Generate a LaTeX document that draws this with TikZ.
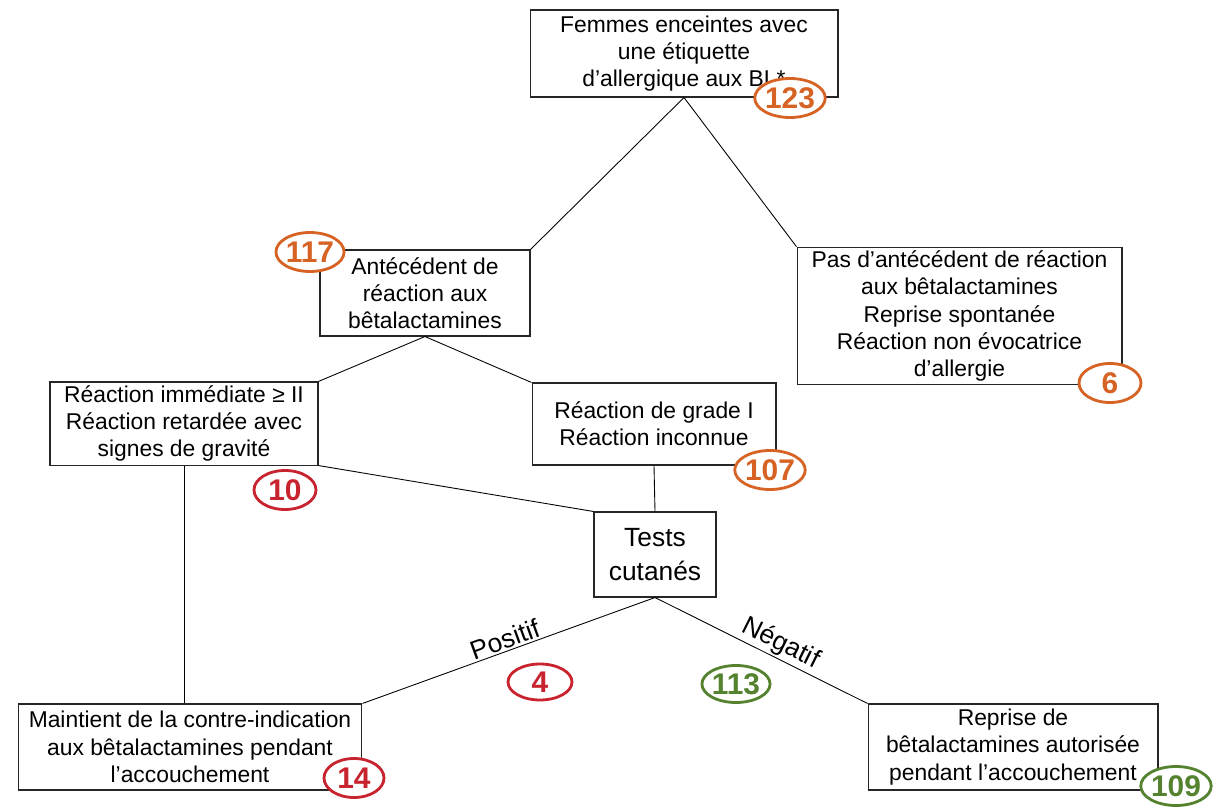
\documentclass[tikz,border=0pt]{standalone}
\usepackage{fontspec}
\setmainfont{Liberation Sans}
\usetikzlibrary{shapes.geometric}
\definecolor{badgeorange}{RGB}{214,98,36}
\definecolor{badgered}{RGB}{200,36,48}
\definecolor{badgegreen}{RGB}{84,130,46}
\begin{document}
\begin{tikzpicture}[x=0.02cm,y=-0.02cm]
\tikzstyle{block} = [rectangle, align=center, text centered, draw=black!85, line width=0.6pt, font=\fontsize{13}{15.5}\selectfont, inner sep=2pt]
\tikzstyle{badge} = [ellipse, fill=white, line width=1.6pt, inner sep=0pt, minimum width=1.2cm, minimum height=0.78cm, font=\fontsize{17}{18}\selectfont\bfseries]
\tikzstyle{orange} = [badge, draw=badgeorange, text=badgeorange]
\tikzstyle{red} = [badge, draw=badgered, text=badgered]
\tikzstyle{green} = [badge, draw=badgegreen, text=badgegreen]
\tikzstyle{line} = [black, line width=0.5pt]
\tikzstyle{lbl} = [font=\fontsize{15}{17}\selectfont, sloped, above, inner sep=1pt]
\useasboundingbox (0,0) rectangle (1215,808);
%
\node (femmes)   [block, minimum width=6.16cm, minimum height=1.74cm] at (684,53.5) {Femmes enceintes avec\\une étiquette\\d’allergique aux BL*};
\node (ante)     [block, minimum width=4.2cm,  minimum height=1.72cm] at (425,293)  {Antécédent de\\réaction aux\\bêtalactamines};
\node (pasante)  [block, minimum width=6.5cm,  minimum height=2.64cm] at (959.5,316) {Pas d’antécédent de réaction\\aux bêtalactamines\\Reprise spontanée\\Réaction non évocatrice\\d’allergie};
\node (immed)    [block, minimum width=5.36cm, minimum height=1.66cm] at (184,423.5) {Réaction immédiate ≥ II\\Réaction retardée avec\\signes de gravité};
\node (grade)    [block, minimum width=4.88cm, minimum height=1.64cm] at (654,424)  {Réaction de grade I\\Réaction inconnue};
\node (tests)    [block, minimum width=2.44cm, minimum height=1.7cm, font=\fontsize{15}{19}\selectfont] at (655,554.5) {Tests\\cutanés};
\node (maintien) [block, minimum width=6.88cm, minimum height=1.72cm] at (190,747)  {Maintient de la contre-indication\\aux bêtalactamines pendant\\l’accouchement};
\node (reprise)  [block, minimum width=5.8cm,  minimum height=1.72cm] at (1013,747) {Reprise de\\bêtalactamines autorisée\\pendant l’accouchement};
%
\draw [line] (femmes.south) -- (ante.north east);
\draw [line] (femmes.south) -- (pasante.north west);
\draw [line] (ante.south)   -- (immed.north east);
\draw [line] (ante.south)   -- (grade.north west);
\draw [line] (immed.south east) -- (tests.north west);
\draw [line] (grade.south)  -- (tests.north);
\draw [line] (immed.south)  -- (immed.south |- maintien.north);
\draw [line] (tests.south)  -- node [lbl, pos=0.5]  {Positif} (maintien.north east);
\draw [line] (tests.south)  -- node [lbl, pos=0.56] {Négatif} (reprise.north west);
%
\node (n123) [orange] at (790,98)    {123};
\node (n117) [orange] at (310,252)   {117};
\node (n6)   [orange, minimum width=1.24cm] at (1110,383) {6};
\node (n10)  [red,    minimum width=1.24cm] at (285,490)  {10};
\node (n107) [orange] at (770,470)   {107};
\node (n4)   [red,    minimum width=1.28cm, minimum height=0.72cm] at (540,682) {4};
\node (n113) [green,  minimum width=1.28cm, minimum height=0.74cm] at (736,684) {113};
\node (n14)  [red]    at (354,778)   {14};
\node (n109) [green]  at (1176,786)  {109};
\end{tikzpicture}
\end{document}
